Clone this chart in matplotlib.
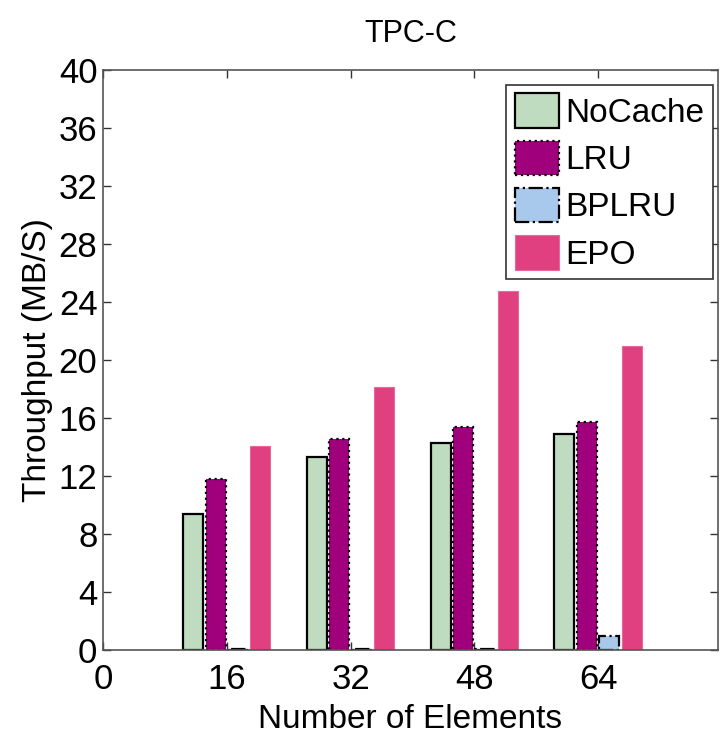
import numpy as np
import matplotlib
matplotlib.use('Agg')
import matplotlib.pyplot as plt

#%% Data
elements = [16, 32, 48, 64]
series = ['NoCache', 'LRU', 'BPLRU', 'EPO']
nocache = [9.4, 13.3, 14.3, 14.9]
lru = [11.8, 14.55, 15.4, 15.7]
bplru = [0.1, 0.1, 0.1, 1.0]
epo = [14.1, 18.15, 24.75, 21.0]

#%% Styles
plt.rcParams['font.family'] = ['Liberation Sans', 'DejaVu Sans']
colors = ['#c0dcc0', '#a0007c', '#a8c8ec', '#e04080']
edges = ['black', 'black', 'black', '#e86898']
styles = ['-', ':', '-.', '-']
widths = [1.6, 1.6, 1.6, 0.8]

#%% Plot
fig = plt.figure(figsize=(7.24, 7.34), dpi=100)
ax = fig.add_axes([0.1423, 0.1144, 0.8494, 0.7902])

x = np.array(elements, dtype=float)
slot = 2.9
bw = 2.6
for i, (name, vals) in enumerate(zip(series, [nocache, lru, bplru, epo])):
    ax.bar(x + (i - 1.5) * slot, vals, width=bw, color=colors[i],
           edgecolor=edges[i], linestyle=styles[i], linewidth=widths[i],
           label=name, zorder=2)

ax.set_xlim(0, 79.5)
ax.set_ylim(0, 40)
ax.set_xticks([0, 16, 32, 48, 64])
ax.set_yticks(np.arange(0, 41, 4))
ax.tick_params(direction='in', length=6, width=1, labelsize=25,
               top=True, right=True, color='#333333')
ax.tick_params(axis='x', pad=9)
ax.tick_params(axis='y', pad=4)
for s in ax.spines.values():
    s.set_color('#555555')
    s.set_linewidth(1.2)

ax.set_title('TPC-C', fontsize=22, pad=20)
ax.set_xlabel('Number of Elements', fontsize=24, labelpad=6)
ax.set_ylabel('Throughput (MB/S)', fontsize=24, labelpad=4)

leg = ax.legend(loc='upper right', bbox_to_anchor=(0.992, 0.974), fontsize=24,
                fancybox=False, edgecolor='#333333', framealpha=1,
                handlelength=1.33, handleheight=1.2, handletextpad=0.2,
                labelspacing=0.36, borderpad=0.25, borderaxespad=0)
leg.get_frame().set_linewidth(1.2)

fig.savefig('out.png', dpi=100)
